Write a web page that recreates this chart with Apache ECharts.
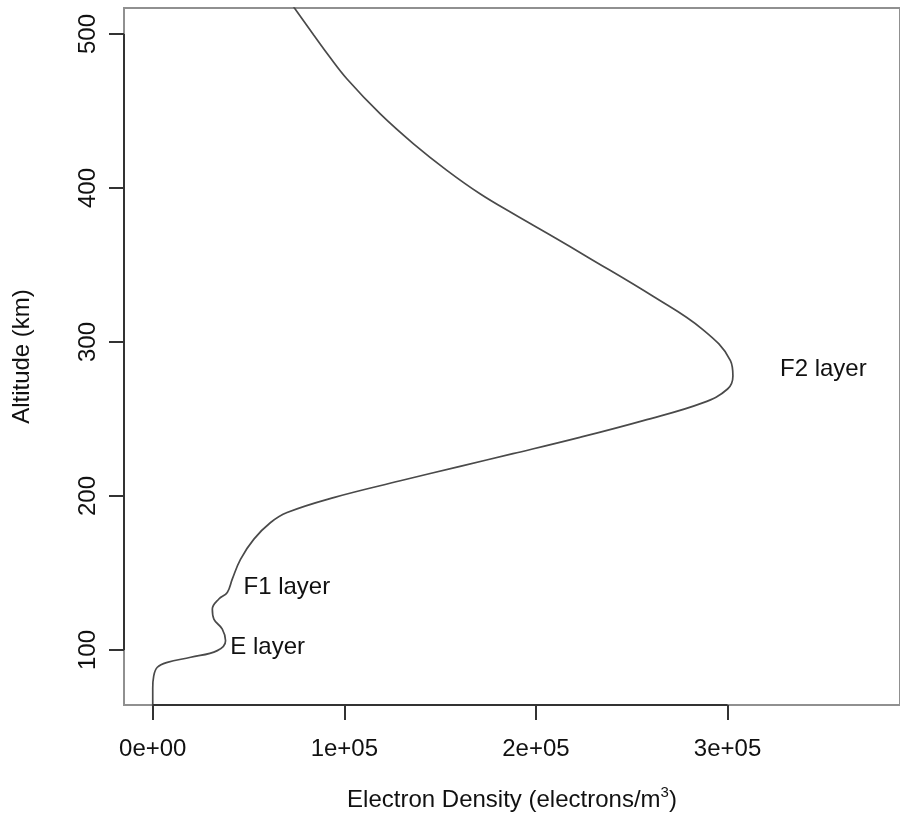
<!DOCTYPE html>
<html>
<head>
<meta charset="utf-8">
<script src="https://cdn.jsdelivr.net/npm/echarts@6/dist/echarts.min.js"></script>
<style>
  html, body { margin: 0; padding: 0; background: #fff; }
  #main { width: 900px; height: 817px; }
</style>
</head>
<body>
<div id="main"></div>
<script>
// electron density profile (density, altitude km)
var density = [0, 0, 500, 2400, 7600, 19800, 33700, 38000, 36300, 31900, 31100, 34500, 38900, 41500, 45800,
    52800, 61500, 70100, 94400, 129200, 160400, 188000, 222900, 256000, 287000, 300000, 302800,
    301500, 287100, 261100, 226400, 209000, 188200, 170800, 153500, 136100, 118750, 101400, 92000, 84000, 73950, 71000];
var altitude = [55, 75, 83, 88.8, 92, 95.3, 99.6, 106, 113.6, 120.1, 126.6, 133.1, 137.4, 146, 158.9,
    172, 182.8, 189.3, 199, 209.9, 219.3, 227.5, 238.1, 249, 260.5, 269.5, 278,
    288, 308.1, 329.7, 355.6, 368.4, 383.3, 396.3, 411.5, 428.7, 448.1, 470.8, 485.7, 499.4, 516.9, 522];

var layerNames = ['E layer', 'F1 layer', 'F2 layer'];
var layerX = [60000, 70000, 350000];
var layerY = [102, 141, 282];

var xTicks = [0, 100000, 200000, 300000];
var xTickLabels = ['0e+00', '1e+05', '2e+05', '3e+05'];
var yTicks = [100, 200, 300, 400, 500];

var xMin = -15000, xMax = 390000;
var yMin = 64.3, yMax = 516.9;

var font = 'Liberation Sans';
var textColor = '#111';
var myChart = echarts.init(document.getElementById('main'));

var curve = density.map(function (d, i) { return [d, altitude[i]]; });
var labels = layerNames.map(function (n, i) { return {name: n, value: [layerX[i], layerY[i]]}; });

var option = {
    animation: false,
    grid: {
        left: 124, right: -2, top: 8, bottom: 111,
        show: true, borderColor: '#909090', borderWidth: 2
    },
    xAxis: {
        type: 'value',
        min: xMin, max: xMax,
        name: '{a|Electron Density (electrons/m}{s|3}{a|)}',
        nameLocation: 'middle',
        nameGap: 80,
        nameTextStyle: {
            rich: {
                a: {fontFamily: font, fontSize: 24, color: textColor, lineHeight: 30},
                s: {fontFamily: font, fontSize: 15, color: textColor, lineHeight: 15, verticalAlign: 'top'}
            }
        },
        axisLine: {show: false, onZero: false},
        splitLine: {show: false},
        axisTick: {customValues: xTicks, length: 15, lineStyle: {color: '#333', width: 2}},
        axisLabel: {
            customValues: xTicks,
            margin: 32,
            fontFamily: font, fontSize: 24, color: textColor,
            formatter: function (v) { return xTickLabels[xTicks.indexOf(v)]; }
        }
    },
    yAxis: {
        type: 'value',
        min: yMin, max: yMax,
        name: 'Altitude (km)',
        nameLocation: 'middle',
        nameGap: 90,
        nameRotate: 90,
        nameTextStyle: {fontFamily: font, fontSize: 24, color: textColor},
        axisLine: {show: false, onZero: false},
        splitLine: {show: false},
        axisTick: {customValues: yTicks, length: 15, lineStyle: {color: '#333', width: 2}},
        axisLabel: {
            customValues: yTicks,
            rotate: 90,
            margin: 24,
            fontFamily: font, fontSize: 24, color: textColor
        }
    },
    series: [
        {
            name: 'density',
            type: 'line',
            data: curve,
            smooth: 0.4,
            showSymbol: false,
            lineStyle: {color: '#4a4a4a', width: 1.7},
            clip: true
        },
        {
            // axis segments drawn over the box, between the outer ticks
            name: 'axes',
            type: 'line',
            data: [],
            clip: false,
            markLine: {
                silent: true,
                symbol: 'none',
                label: {show: false},
                lineStyle: {color: '#333', width: 2, type: 'solid'},
                data: [
                    [{coord: [xTicks[0], yMin]}, {coord: [xTicks[xTicks.length - 1], yMin]}],
                    [{coord: [xMin, yTicks[0]]}, {coord: [xMin, yTicks[yTicks.length - 1]]}]
                ]
            }
        },
        {
            name: 'layers',
            type: 'scatter',
            data: labels,
            symbolSize: 0,
            itemStyle: {opacity: 0},
            label: {
                show: true,
                position: 'inside',
                formatter: '{b}',
                opacity: 1,
                textBorderWidth: 0,
                fontFamily: font, fontSize: 24, color: textColor
            }
        }
    ]
};
myChart.setOption(option);

window.addEventListener("resize", function () {
    myChart.resize();
});
</script>
</body>
</html>
